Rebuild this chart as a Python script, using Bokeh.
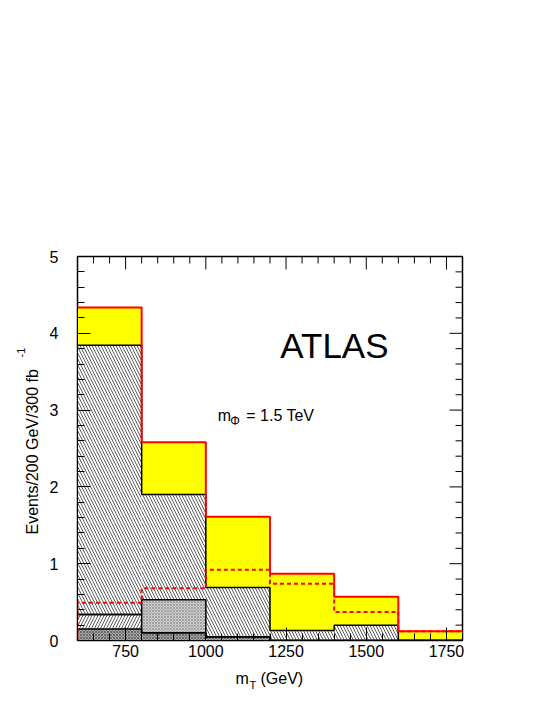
import numpy as np
from bokeh.plotting import figure
from bokeh.layouts import row, column
from bokeh.models import FixedTicker, Label, Range1d
from bokeh.embed import file_html
from bokeh.resources import INLINE

# ---- data ----
bin_edges = [600, 800, 1000, 1200, 1400, 1600, 1800]
bkg_dark = [0.15, 0.10, 0.05, 0.0, 0.0, 0.0]      # dark checker background
bkg_fwd = [0.19, 0.0, 0.0, 0.0, 0.0, 0.0]         # "/" hatched background
bkg_cross = [0.0, 0.43, 0.0, 0.0, 0.0, 0.0]       # cross-hatched background
bkg_main = [3.505, 1.37, 0.64, 0.13, 0.20, 0.0]   # "\" hatched main background
signal = [0.49, 0.68, 0.92, 0.74, 0.37, 0.12]     # signal (yellow, stacked; dashed alone)

x_major_ticks = [750, 1000, 1250, 1500, 1750]
x_minor_ticks = list(range(600, 1801, 50))
y_major_ticks = [0, 1, 2, 3, 4, 5]
y_minor_ticks = [round(0.2 * i, 2) for i in range(26)]

FONT = "Liberation Sans"
XMIN, XMAX, YMIN, YMAX = 600, 1800, 0, 5

# ---- geometry ----
LEFT_W = 40            # width of the y-title strip
MAIN_W, MAIN_H = 500, 670
BORDER_L, BORDER_R, BORDER_T, BORDER_B = 37, 78, 256, 30
BOTTOM_H = 40          # height of the x-title strip
frame_w = MAIN_W - BORDER_L - BORDER_R
frame_h = MAIN_H - BORDER_T - BORDER_B
px_x = frame_w / (XMAX - XMIN)
px_y = frame_h / (YMAX - YMIN)
MAJOR_LEN, MINOR_LEN = 13, 7

p = figure(width=MAIN_W, height=MAIN_H,
           x_range=Range1d(XMIN, XMAX), y_range=Range1d(YMIN, YMAX),
           output_backend="svg", toolbar_location=None,
           min_border_left=BORDER_L, min_border_right=BORDER_R,
           min_border_top=BORDER_T, min_border_bottom=BORDER_B,
           background_fill_color="white", border_fill_color="white",
           outline_line_color="black", outline_line_width=1.5)
p.xgrid.visible = False
p.ygrid.visible = False

edges = np.array(bin_edges, dtype=float)
left, right = edges[:-1], edges[1:]

layers = [
    (bkg_dark, dict(fill_color="#a8a8a8", hatch_pattern="diagonal_cross",
                    hatch_color="#505050", hatch_scale=3, hatch_weight=0.7)),
    (bkg_fwd, dict(fill_color="white", hatch_pattern="right_diagonal_line",
                   hatch_color="#333333", hatch_scale=6, hatch_weight=0.8)),
    (bkg_cross, dict(fill_color="#d2d2d2", hatch_pattern="diagonal_cross",
                     hatch_color="#808080", hatch_scale=3, hatch_weight=0.6)),
    (bkg_main, dict(fill_color="white", hatch_pattern="left_diagonal_line",
                    hatch_color="#333333", hatch_scale=6, hatch_weight=0.8)),
    (signal, dict(fill_color="#ffff00")),
]

cum = np.zeros(len(left))
tops = []
for vals, style in layers:
    v = np.array(vals, dtype=float)
    p.quad(left=left, right=right, bottom=cum.copy(), top=cum + v,
           line_color=None, **style)
    cum = cum + v
    tops.append(cum.copy())

# outlines of the stacked background histograms
for t in tops[:4]:
    p.step(x=edges, y=list(t) + [t[-1]], mode="after",
           line_color="black", line_width=1.5)

# signal alone, dashed red
sig = list(signal)
p.step(x=[edges[0]] + list(edges), y=[0.0] + sig + [sig[-1]], mode="after",
       line_color="#ff0000", line_width=2, line_dash="4 3")

# total (background + signal), solid red
tot = tops[4]
p.step(x=edges, y=list(tot) + [tot[-1]], mode="after",
       line_color="#ff0000", line_width=2)

# ---- axes (ticks pointing inward) ----
def style_axis(ax, ticks, minor):
    ax.ticker = FixedTicker(ticks=ticks, minor_ticks=minor)
    ax.major_tick_in = MAJOR_LEN
    ax.major_tick_out = 0
    ax.minor_tick_in = MINOR_LEN
    ax.minor_tick_out = 0
    ax.axis_line_color = "black"
    ax.major_tick_line_color = "black"
    ax.minor_tick_line_color = "black"
    ax.major_label_text_font = FONT
    ax.major_label_text_font_style = "normal"
    ax.major_label_text_color = "black"
    ax.major_label_text_font_size = "16px"

xa = p.xaxis[0]
style_axis(xa, x_major_ticks, x_minor_ticks)
xa.major_label_standoff = 4
ya = p.yaxis[0]
style_axis(ya, y_major_ticks, y_minor_ticks)
ya.major_label_standoff = 19

# mirrored ticks on the top and right edges of the frame
x_minor_only = [t for t in x_minor_ticks if t not in x_major_ticks]
y_minor_only = [t for t in y_minor_ticks if t not in y_major_ticks]
for ticks, ln in ((x_major_ticks, MAJOR_LEN), (x_minor_only, MINOR_LEN)):
    p.segment(x0=ticks, x1=ticks, y0=[YMAX] * len(ticks),
              y1=[YMAX - ln / px_y] * len(ticks), line_color="black", line_width=1)
for ticks, ln in ((y_major_ticks, MAJOR_LEN), (y_minor_only, MINOR_LEN)):
    p.segment(x0=[XMAX] * len(ticks), x1=[XMAX - ln / px_x] * len(ticks),
              y0=ticks, y1=ticks, line_color="black", line_width=1)

# ---- texts inside the frame ----
def lab(fig, x, y, text, size, angle=0.0):
    fig.add_layout(Label(x=x, y=y, text=text, text_font=FONT,
                         text_font_size=size, text_color="black",
                         text_baseline="alphabetic", text_align="left",
                         angle=angle))

lab(p, 1232, 3.84, "ATLAS", "35px")
lab(p, 1037, 2.925, "m", "16px")
lab(p, 1076, 2.852, "Φ", "12px")
lab(p, 1126, 2.925, "= 1.5 TeV", "16px")

# ---- side strips for the axis titles ----
def strip(w, h, y_range=None):
    f = figure(width=w, height=h, x_range=Range1d(0, w),
               y_range=y_range if y_range is not None else Range1d(0, h),
               output_backend="svg", toolbar_location=None,
               x_axis_location=None, y_axis_location=None,
               min_border=0, outline_line_color=None,
               background_fill_color="white", border_fill_color="white")
    f.grid.visible = False
    return f

# the y-title strip's frame is aligned with the main frame, so it shares its y scale
ystrip = strip(LEFT_W, MAIN_H, y_range=p.y_range)
lab(ystrip, 32.3, 1.38, "Events/200 GeV/300 fb", "16px", angle=np.pi / 2)
lab(ystrip, 20.5, 3.685, "-1", "11px", angle=np.pi / 2)

xstrip = strip(LEFT_W + MAIN_W, BOTTOM_H)
lab(xstrip, 235, BOTTOM_H - 8, "m", "16px")
lab(xstrip, 249, BOTTOM_H - 14.5, "T", "11px")
lab(xstrip, 260, BOTTOM_H - 8, "(GeV)", "16px")

layout = column(row(ystrip, p, spacing=0), xstrip, spacing=0)

open("out.html", "w").write(file_html(layout, INLINE))
